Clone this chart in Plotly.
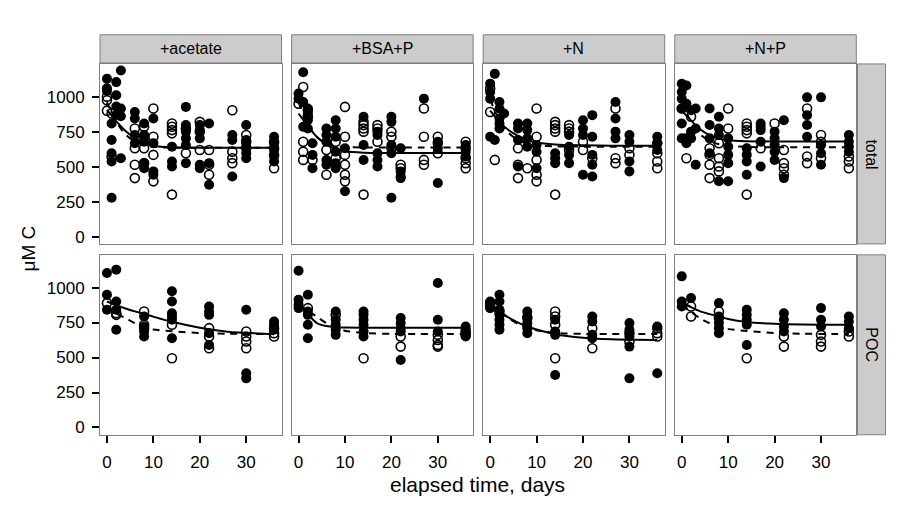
import plotly.graph_objects as go

W, H = 918, 517
FONT = "Liberation Sans, Arial, Helvetica, sans-serif"

# ---------------- data ----------------
treatments = ["+acetate", "+BSA+P", "+N", "+N+P"]
pools = ["total", "POC"]
x_tick_vals = [0, 10, 20, 30]
y_tick_vals = [0, 250, 500, 750, 1000]
y_tick_text = ["0", "250", "500", "750", "1000"]
x_title = "elapsed time, days"
y_title = "μM C"

# (day, µM C) pairs, filled = closed circles, open = hollow circles
acetate_total_filled = [
    (0, 1128), (0, 1060), (0, 1040), (1, 808), (1, 690), (1, 596), (1, 537), (1, 277),
    (2, 1104), (2, 1010), (2, 930), (2, 870), (3, 1187), (3, 915), (3, 860), (3, 560),
    (6, 891), (6, 844), (6, 726), (6, 667), (8, 808), (8, 726), (8, 678), (8, 525), (8, 489),
    (10, 844), (10, 667), (10, 466), (10, 442), (14, 643), (14, 537), (14, 501),
    (17, 927), (17, 797), (17, 750), (17, 702), (17, 655), (17, 525),
    (20, 797), (20, 761), (20, 702), (20, 513), (20, 489), (22, 808), (22, 525), (22, 371),
    (27, 726), (27, 690), (27, 430), (30, 797), (30, 690), (30, 643), (30, 596), (30, 560),
    (36, 714), (36, 667), (36, 619), (36, 572), (36, 537)]
acetate_total_open = [
    (0, 1000), (0, 975), (0, 900), (1, 880), (1, 570), (6, 773), (6, 631), (6, 513), (6, 418),
    (8, 785), (8, 714), (8, 631), (8, 525), (10, 915), (10, 714), (10, 584), (10, 395),
    (14, 808), (14, 785), (14, 761), (14, 738), (14, 300), (17, 773), (17, 596),
    (20, 820), (20, 750), (20, 619), (22, 619), (22, 513), (22, 442),
    (27, 903), (27, 607), (27, 560), (27, 525), (30, 726), (30, 678), (30, 631),
    (36, 678), (36, 631), (36, 584), (36, 489)]

bsa_total_filled = [
    (0, 1022), (0, 986), (1, 1175), (1, 962), (1, 785), (2, 915), (2, 880), (2, 832), (2, 773),
    (3, 667), (3, 584), (3, 489), (6, 773), (6, 726), (6, 678), (6, 548), (6, 513),
    (8, 832), (8, 773), (8, 714), (8, 607), (8, 525), (8, 489), (10, 631), (10, 324),
    (14, 856), (14, 655), (14, 548), (17, 750), (17, 726), (17, 596), (17, 548), (17, 501),
    (20, 856), (20, 820), (20, 655), (20, 596), (20, 277), (22, 631), (22, 466), (22, 430), (22, 418),
    (27, 986), (30, 678), (30, 631), (30, 383), (36, 655), (36, 607), (36, 572)]
bsa_total_open = [
    (0, 950), (1, 1069), (1, 678), (1, 607), (1, 548), (2, 903), (2, 856), (3, 548),
    (6, 619), (6, 442), (8, 678), (8, 560), (10, 927), (10, 714), (10, 584), (10, 513), (10, 442), (10, 395),
    (14, 820), (14, 797), (14, 773), (14, 750), (14, 300), (17, 797), (17, 773), (17, 678),
    (20, 750), (20, 714), (20, 631), (22, 513), (22, 489), (27, 915), (27, 714), (27, 548), (27, 513),
    (30, 714), (30, 667), (30, 596), (36, 678), (36, 631), (36, 560), (36, 525), (36, 489)]

n_total_filled = [
    (0, 1093), (0, 1034), (0, 986), (0, 714), (1, 1163), (1, 690),
    (2, 962), (2, 915), (2, 844), (2, 808), (2, 773), (3, 880),
    (6, 808), (6, 773), (6, 690), (6, 501), (8, 808), (8, 761), (8, 702), (8, 643),
    (10, 655), (10, 607), (10, 489), (14, 596), (14, 560), (14, 525),
    (17, 726), (17, 643), (17, 584), (17, 525), (20, 832), (20, 773), (20, 726), (20, 442),
    (22, 868), (22, 714), (22, 584), (22, 513), (22, 430), (27, 962), (27, 844), (27, 750), (27, 702),
    (30, 726), (30, 678), (30, 537), (30, 466), (36, 714), (36, 667), (36, 619)]
n_total_open = [
    (0, 1058), (0, 891), (1, 548), (6, 631), (6, 513), (6, 418), (8, 489),
    (10, 915), (10, 714), (10, 548), (10, 442), (10, 395),
    (14, 820), (14, 797), (14, 773), (14, 750), (14, 300), (17, 797), (17, 773), (17, 750), (17, 619),
    (20, 678), (20, 619), (22, 560), (27, 915), (27, 560), (27, 525), (30, 631), (30, 584),
    (36, 667), (36, 596), (36, 537), (36, 489)]

np_total_filled = [
    (0, 1092), (0, 1034), (0, 986), (0, 915), (0, 808), (0, 702), (1, 1080), (1, 950), (1, 702), (1, 667),
    (2, 903), (2, 750), (2, 702), (3, 915), (3, 773), (3, 513), (6, 915), (6, 797), (6, 702), (6, 596),
    (8, 856), (8, 773), (8, 726), (8, 395), (10, 702), (10, 643), (10, 584), (10, 525), (10, 395),
    (14, 631), (14, 584), (14, 537), (14, 442), (17, 808), (17, 785), (17, 761), (17, 678), (17, 501),
    (20, 750), (20, 702), (20, 655), (20, 607), (20, 548), (22, 832), (22, 418),
    (27, 995), (27, 868), (27, 797), (27, 714), (30, 995), (30, 655), (30, 596), (30, 513),
    (36, 726), (36, 678), (36, 643), (36, 607)]
np_total_open = [
    (0, 915), (1, 560), (2, 856), (6, 631), (6, 584), (6, 513), (6, 418),
    (8, 667), (8, 560), (8, 501), (8, 466), (10, 915), (10, 773),
    (14, 808), (14, 785), (14, 761), (14, 738), (14, 300), (17, 631), (20, 808),
    (22, 619), (22, 525), (22, 489), (22, 442), (27, 915), (27, 572), (27, 525),
    (30, 726), (30, 678), (30, 560), (36, 572), (36, 537), (36, 489)]

acetate_poc_filled = [
    (0, 1104), (0, 949), (0, 841), (2, 1128), (2, 901), (2, 841), (2, 698),
    (8, 793), (8, 722), (8, 686), (8, 650), (14, 973), (14, 901), (14, 817), (14, 793), (14, 770), (14, 638),
    (22, 865), (22, 829), (22, 805), (22, 674), (22, 590), (30, 841), (30, 387), (30, 351),
    (36, 758), (36, 734), (36, 698)]
acetate_poc_open = [
    (0, 889), (2, 817), (2, 805), (8, 829), (8, 734), (8, 710), (14, 734), (14, 495),
    (22, 710), (22, 650), (22, 566), (30, 686), (30, 650), (30, 614), (30, 566),
    (36, 710), (36, 674), (36, 650)]

bsa_poc_filled = [
    (0, 1120), (0, 913), (0, 877), (0, 853), (2, 949), (2, 829), (2, 805), (2, 734), (2, 638),
    (8, 829), (8, 770), (8, 734), (8, 698), (8, 662), (14, 829), (14, 805), (14, 770), (14, 734), (14, 686), (14, 650),
    (22, 782), (22, 746), (22, 710), (22, 686), (22, 482), (30, 1032), (30, 770), (30, 686),
    (36, 722), (36, 698), (36, 674), (36, 650)]
bsa_poc_open = [
    (2, 853), (8, 805), (14, 495), (22, 650), (22, 578), (30, 662), (30, 626), (30, 590), (30, 578),
    (36, 686), (36, 662)]

n_poc_filled = [
    (0, 901), (0, 877), (0, 853), (2, 949), (2, 901), (2, 841), (2, 805), (2, 770), (2, 734), (2, 698),
    (8, 829), (8, 793), (8, 746), (8, 710), (8, 674), (14, 770), (14, 686), (14, 662), (14, 375),
    (22, 793), (22, 758), (22, 662), (22, 638), (30, 746), (30, 698), (30, 650), (30, 578), (30, 351),
    (36, 722), (36, 387)]
n_poc_open = [
    (0, 889), (0, 865), (2, 829), (8, 782), (14, 829), (14, 793), (14, 734), (14, 495),
    (22, 710), (22, 566), (30, 674), (30, 614), (36, 710), (36, 674), (36, 650)]

np_poc_filled = [
    (0, 1080), (0, 901), (0, 865), (2, 925), (8, 889), (8, 793), (8, 746), (8, 710), (8, 674),
    (14, 841), (14, 805), (14, 770), (14, 734), (14, 590), (22, 817), (22, 770), (22, 722), (22, 686),
    (30, 853), (30, 770), (30, 722), (36, 793), (36, 758), (36, 710)]
np_poc_open = [
    (2, 865), (2, 793), (8, 829), (8, 782), (14, 495), (22, 650), (22, 578),
    (30, 662), (30, 614), (30, 578), (36, 686), (36, 650)]

# fitted curves (solid = filled group, dashed = open group)
line_days = [0, 2, 4, 6, 8, 10, 14, 20, 26, 36]
acetate_total_solid = [905, 825, 755, 705, 670, 650, 638, 635, 635, 635]
acetate_total_dashed = [960, 820, 730, 680, 655, 642, 636, 635, 635, 635]
bsa_total_solid = [880, 790, 710, 660, 625, 610, 600, 598, 598, 598]
bsa_total_dashed = [960, 800, 710, 665, 645, 640, 637, 636, 636, 636]
n_total_solid = [900, 820, 760, 720, 690, 672, 658, 652, 650, 650]
n_total_dashed = [980, 830, 740, 690, 665, 652, 645, 643, 643, 643]
np_total_solid = [900, 830, 765, 725, 700, 688, 682, 680, 680, 680]
np_total_dashed = [960, 820, 730, 685, 660, 648, 641, 638, 638, 638]
acetate_poc_solid = [900, 875, 850, 830, 812, 792, 755, 713, 685, 667]
acetate_poc_dashed = [870, 815, 782, 745, 718, 700, 688, 675, 670, 668]
bsa_poc_solid = [890, 810, 745, 725, 717, 714, 713, 713, 713, 713]
bsa_poc_dashed = [880, 835, 790, 745, 712, 692, 675, 669, 668, 668]
n_poc_solid = [880, 830, 785, 750, 722, 700, 667, 642, 630, 626]
n_poc_dashed = [880, 825, 780, 740, 712, 695, 675, 669, 668, 668]
np_poc_solid = [895, 860, 830, 810, 793, 775, 754, 741, 736, 734]
np_poc_dashed = [870, 825, 780, 745, 718, 703, 690, 675, 670, 668]

panels = [
    (0, 0, acetate_total_filled, acetate_total_open, acetate_total_solid, acetate_total_dashed),
    (0, 1, bsa_total_filled, bsa_total_open, bsa_total_solid, bsa_total_dashed),
    (0, 2, n_total_filled, n_total_open, n_total_solid, n_total_dashed),
    (0, 3, np_total_filled, np_total_open, np_total_solid, np_total_dashed),
    (1, 0, acetate_poc_filled, acetate_poc_open, acetate_poc_solid, acetate_poc_dashed),
    (1, 1, bsa_poc_filled, bsa_poc_open, bsa_poc_solid, bsa_poc_dashed),
    (1, 2, n_poc_filled, n_poc_open, n_poc_solid, n_poc_dashed),
    (1, 3, np_poc_filled, np_poc_open, np_poc_solid, np_poc_dashed),
]

# ---------------- layout geometry (pixels) ----------------
col_left = [100.0, 291.6, 483.2, 674.8]
panel_w = 181.5
row_top = [64.3, 256.3]
panel_h = 181.0
x_range = [-1.5, 37.6]
y_range = [-52, 1234]
BORDER = "#7F7F7F"
STRIP = "#CCCCCC"


def px(x):
    return x / W


def py(y):
    return (H - y) / H


fig = go.Figure()
layout_axes = {}

for i, (r, c, filled, opn, solid, dashed) in enumerate(panels):
    n = i + 1
    xa = "x" if n == 1 else f"x{n}"
    ya = "y" if n == 1 else f"y{n}"

    fig.add_trace(go.Scatter(
        x=[p[0] for p in filled], y=[p[1] for p in filled], mode="markers",
        marker=dict(symbol="circle", size=10, color="black", line=dict(width=0)),
        xaxis=xa, yaxis=ya, showlegend=False, hoverinfo="x+y"))
    fig.add_trace(go.Scatter(
        x=[p[0] for p in opn], y=[p[1] for p in opn], mode="markers",
        marker=dict(symbol="circle-open", size=9, color="black", line=dict(width=1.6, color="black")),
        xaxis=xa, yaxis=ya, showlegend=False, hoverinfo="x+y"))
    fig.add_trace(go.Scatter(
        x=line_days, y=dashed, mode="lines",
        line=dict(color="black", width=2, dash="7px,6px", shape="spline", smoothing=0.8),
        xaxis=xa, yaxis=ya, showlegend=False, hoverinfo="skip"))
    fig.add_trace(go.Scatter(
        x=line_days, y=solid, mode="lines",
        line=dict(color="black", width=2, shape="spline", smoothing=0.8),
        xaxis=xa, yaxis=ya, showlegend=False, hoverinfo="skip"))

    l = col_left[c]
    t = row_top[r]
    layout_axes["xaxis" if n == 1 else f"xaxis{n}"] = dict(
        domain=[px(l), px(l + panel_w)], anchor=ya, range=x_range,
        showgrid=False, zeroline=False, showline=True, mirror=True,
        linecolor=BORDER, linewidth=1,
        tickmode="array", tickvals=x_tick_vals,
        ticks="outside" if r == 1 else "", ticklen=7, tickwidth=2, tickcolor="black",
        showticklabels=(r == 1), ticklabelstandoff=5,
        tickfont=dict(family=FONT, size=17, color="black"), fixedrange=True)
    layout_axes["yaxis" if n == 1 else f"yaxis{n}"] = dict(
        domain=[py(t + panel_h), py(t)], anchor=xa, range=y_range,
        showgrid=False, zeroline=False, showline=True, mirror=True,
        linecolor=BORDER, linewidth=1,
        tickmode="array", tickvals=y_tick_vals, ticktext=y_tick_text,
        ticks="outside" if c == 0 else "", ticklen=7, tickwidth=2, tickcolor="black",
        showticklabels=(c == 0), ticklabelstandoff=4,
        tickfont=dict(family=FONT, size=17, color="black"), fixedrange=True)

shapes = []
annotations = []
# top strips
for c, name in enumerate(treatments):
    l = col_left[c]
    shapes.append(dict(type="rect", xref="paper", yref="paper",
                       x0=px(l), x1=px(l + panel_w), y0=py(63.3), y1=py(35.0),
                       fillcolor=STRIP, line=dict(color=BORDER, width=1), layer="below"))
    annotations.append(dict(text=name, xref="paper", yref="paper", x=px(l + panel_w / 2), y=py(49.2),
                            showarrow=False, xanchor="center", yanchor="middle",
                            font=dict(family=FONT, size=16, color="black")))
# right strips
for r, name in enumerate(pools):
    t = row_top[r]
    shapes.append(dict(type="rect", xref="paper", yref="paper",
                       x0=px(857.5), x1=px(885.5), y0=py(t + panel_h), y1=py(t),
                       fillcolor=STRIP, line=dict(color=BORDER, width=1), layer="below"))
    annotations.append(dict(text=name, xref="paper", yref="paper", x=px(871.5), y=py(t + panel_h / 2),
                            showarrow=False, xanchor="center", yanchor="middle", textangle=90,
                            font=dict(family=FONT, size=16, color="black")))

annotations.append(dict(text=x_title, xref="paper", yref="paper", x=px(477), y=py(487),
                        showarrow=False, xanchor="center", yanchor="middle",
                        font=dict(family=FONT, size=21, color="black")))
annotations.append(dict(text=y_title, xref="paper", yref="paper", x=px(29), y=py(250),
                        showarrow=False, xanchor="center", yanchor="middle", textangle=-90,
                        font=dict(family=FONT, size=19, color="black")))

fig.update_layout(
    width=W, height=H, autosize=False,
    margin=dict(l=0, r=0, t=0, b=0, pad=0),
    paper_bgcolor="white", plot_bgcolor="white",
    shapes=shapes, annotations=annotations, showlegend=False,
    **layout_axes)

fig.write_html("out.html", config={"displayModeBar": False},
               post_script="document.body.style.margin='0';document.body.style.padding='0';")
